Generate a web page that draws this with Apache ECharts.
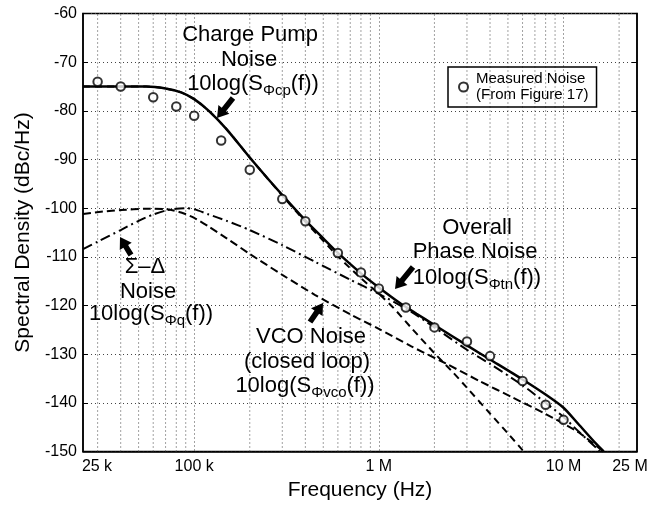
<!DOCTYPE html>
<html><head><meta charset="utf-8">
<script src="https://cdn.jsdelivr.net/npm/echarts@6/dist/echarts.min.js"></script>
<style>html,body{margin:0;padding:0;background:#fff}#c{width:666px;height:506px}</style>
</head><body><div id="c"></div>
<script>
const FONT = 'Liberation Sans, Arial, sans-serif';

// x-axis tick labels (Hz) and their text
const xTickValues = [25e3, 1e5, 1e6, 1e7, 2.5e7];
const xTickText = ['25 k', '100 k', '1 M', '10 M', '25 M'];
// log grid lines (minor)
const xGridValues = [3e4, 4e4, 5e4, 6e4, 7e4, 8e4, 9e4,
  2e5, 3e5, 4e5, 5e5, 6e5, 7e5, 8e5, 9e5,
  2e6, 3e6, 4e6, 5e6, 6e6, 7e6, 8e6, 9e6, 2e7];
const yMin = -150, yMax = -60;

// Measured noise (From Figure 17)
const measF = [30e3, 40e3, 60e3, 80e3, 100e3, 140e3, 200e3, 300e3, 400e3, 600e3, 800e3, 1e6, 1.4e6, 2e6, 3e6, 4e6, 6e6, 8e6, 10e6];
const measV = [-74, -75, -77.2, -79.1, -81, -86.1, -92.1, -98.1, -102.7, -109.2, -113.2, -116.5, -120.4, -124.5, -127.4, -130.4, -135.5, -140.4, -143.5];

// Overall phase noise (solid)
const ovF = [25e3, 40e3, 55e3, 70e3, 85e3, 100e3, 120e3, 150e3, 200e3, 250e3, 300e3, 400e3, 500e3, 600e3, 800e3, 1e6, 1.3e6, 1.6e6, 2e6, 3e6, 4e6, 6e6, 8e6, 10e6, 12e6, 15e6, 16.5e6];
const ovV = [-75, -75, -75, -75.4, -76.2, -77.6, -80, -83.8, -89.6, -93.9, -97.3, -102.5, -106.2, -109.2, -113.4, -116.3, -119.5, -121.7, -124, -128.2, -131.1, -135.2, -138.3, -141, -144.3, -148.4, -150];

// Charge pump noise (dashed, steep)
const cpF = [25e3, 40e3, 55e3, 70e3, 85e3, 100e3, 120e3, 150e3, 200e3, 250e3, 300e3, 400e3, 500e3, 600e3, 800e3, 1e6, 1.2e6, 1.5e6, 2e6, 2.5e6, 3e6, 4e6, 5e6, 6e6, 6.2e6];
const cpV = [-75, -75, -75, -75.4, -76.2, -77.6, -80, -83.8, -89.6, -93.9, -97.4, -102.8, -106.7, -109.9, -114.4, -117.6, -120.5, -124.6, -129.8, -133.6, -136.9, -142.2, -146.3, -149.7, -150.3];

// Sigma-Delta noise (dash-dot)
const sdF = [25e3, 30e3, 40e3, 50e3, 60e3, 70e3, 80e3, 90e3, 100e3, 120e3, 150e3, 200e3, 300e3, 450e3, 700e3, 1e6, 1.5e6, 2e6, 3e6, 4e6, 6e6, 8e6, 10e6, 12e6, 15.7e6];
const sdV = [-108.4, -106.9, -104.5, -102.6, -101.3, -100.5, -100.1, -100, -100.2, -101.3, -102.6, -104.5, -107.6, -111, -114.7, -117.6, -121.3, -124.5, -129.1, -132, -136.4, -140, -142.9, -145.8, -149.9];

// VCO noise, closed loop (dashed)
const vcF = [25e3, 32e3, 40e3, 55e3, 70e3, 85e3, 100e3, 120e3, 150e3, 200e3, 300e3, 450e3, 700e3, 1e6, 1.5e6, 2.3e6, 3.5e6, 5.3e6, 8e6, 12e6, 16.3e6];
const vcV = [-101.2, -100.7, -100.4, -100.1, -100.2, -100.9, -102, -103.8, -106.2, -109.4, -113.7, -117.8, -121.8, -124.8, -128.4, -131.9, -135.5, -138.9, -142.3, -146, -149.9];

const zip = (a, b) => a.map((v, i) => [v, b[i]]);

function arrowPts(tx, ty, sx, sy) {
  const dx = tx - sx, dy = ty - sy, L = Math.hypot(dx, dy);
  const ux = dx / L, uy = dy / L, px = -uy, py = ux;
  const hl = 11, hw = 7, sw = 2.8;
  const bx = tx - ux * hl, by = ty - uy * hl;
  return [[sx + px * sw, sy + py * sw], [bx + px * sw, by + py * sw], [bx + px * hw, by + py * hw],
          [tx, ty], [bx - px * hw, by - py * hw], [bx - px * sw, by - py * sw], [sx - px * sw, sy - py * sw]];
}
function arrow(tx, ty, sx, sy) {
  return { type: 'polygon', shape: { points: arrowPts(tx, ty, sx, sy) }, style: { fill: '#000' }, z: 100 };
}
function txt(x, y, s, size) {
  return { type: 'text', x: x, y: y, z: 100,
    style: { text: s, fontSize: size || 22, fontFamily: FONT, fill: '#000', align: 'center', verticalAlign: 'middle' } };
}
function formula(x, y, sub) {
  return { type: 'text', x: x, y: y, z: 100,
    style: { text: '{m|10log(S}{s|\u03A6' + sub + '}{m|(f))}', fill: '#000', align: 'center', verticalAlign: 'middle',
      rich: { m: { fontSize: 22, fontFamily: FONT, fill: '#000' },
              s: { fontSize: 15, fontFamily: FONT, fill: '#000', padding: [14, 0, 0, 0] } } } };
}

// minor vertical grid as one broken line series
const gridData = [];
xGridValues.forEach(v => { gridData.push([v, yMin], [v, yMax], [v, null]); });

const chart = echarts.init(document.getElementById('c'));
const dottedStyle = { color: '#444', type: [1, 3], width: 1 };
const lineCommon = { type: 'line', showSymbol: false, smooth: 0.25 };
chart.setOption({
  animation: false,
  backgroundColor: '#fff',
  textStyle: { fontFamily: FONT },
  grid: { left: 83, right: 29, top: 13.5, bottom: 54.5, show: true, borderColor: '#000', borderWidth: 1.5, backgroundColor: 'transparent' },
  legend: {
    data: ['Measured Noise\n(From Figure 17)'],
    left: 448, top: 67, orient: 'vertical',
    borderColor: '#000', borderWidth: 1.5, borderRadius: 0,
    padding: [4, 8, 4, 10], itemWidth: 9, itemHeight: 9,
    textStyle: { fontSize: 15, fontFamily: FONT, color: '#000', lineHeight: 16, padding: [0, 0, 0, 3] }
  },
  xAxis: {
    type: 'log', logBase: 10, min: 25e3, max: 2.5e7,
    name: 'Frequency (Hz)', nameLocation: 'middle', nameGap: 27,
    nameTextStyle: { fontSize: 21, fontFamily: FONT, color: '#000' },
    axisLine: { show: true, lineStyle: { color: '#000', width: 1.5 } },
    axisTick: { show: false },
    axisLabel: {
      customValues: xTickValues, fontSize: 16, fontFamily: FONT, color: '#000', margin: 7,
      formatter: function (v) {
        const i = xTickValues.findIndex(t => Math.abs(t - v) / t < 1e-6);
        if (i < 0) return '';
        if (i === 0) return '{a|' + xTickText[i] + '}';
        if (i === xTickValues.length - 1) return '{b|' + xTickText[i] + '}';
        return xTickText[i];
      },
      rich: { a: { fontSize: 16, fontFamily: FONT, color: '#000', padding: [0, 0, 0, 28] },
              b: { fontSize: 16, fontFamily: FONT, color: '#000', padding: [0, 14, 0, 0] } }
    },
    splitLine: { show: true, lineStyle: dottedStyle }
  },
  yAxis: [{
    type: 'value', min: yMin, max: yMax, interval: 10,
    name: 'Spectral Density (dBc/Hz)', nameLocation: 'middle', nameGap: 36,
    nameTextStyle: { fontSize: 21, fontFamily: FONT, color: '#000' },
    axisLine: { show: true, lineStyle: { color: '#000', width: 1.5 } },
    axisTick: { show: true, inside: true, length: 5, lineStyle: { color: '#000' } },
    axisLabel: { fontSize: 16, fontFamily: FONT, color: '#000', margin: 6 },
    splitLine: { show: true, lineStyle: dottedStyle }
  }, {
    type: 'value', min: yMin, max: yMax, interval: 10, position: 'right',
    axisLine: { show: true, lineStyle: { color: '#000', width: 1.5 } },
    axisTick: { show: true, inside: true, length: 5, lineStyle: { color: '#000' } },
    axisLabel: { show: false }, splitLine: { show: false }
  }],
  series: [
    { name: 'grid', type: 'line', data: gridData, silent: true, z: 1, showSymbol: false, smooth: false,
      connectNulls: false, lineStyle: dottedStyle, emphasis: { disabled: true }, tooltip: { show: false } },
    Object.assign({ name: 'VCO Noise', data: zip(vcF, vcV), lineStyle: { color: '#000', width: 2, type: [8, 4] }, z: 2 }, lineCommon),
    Object.assign({ name: 'Sigma-Delta Noise', data: zip(sdF, sdV), lineStyle: { color: '#000', width: 2, type: [10, 4, 2, 4] }, z: 2 }, lineCommon),
    Object.assign({ name: 'Charge Pump Noise', data: zip(cpF, cpV), lineStyle: { color: '#000', width: 2, type: [7, 5] }, z: 2 }, lineCommon),
    Object.assign({ name: 'Overall Phase Noise', data: zip(ovF, ovV), lineStyle: { color: '#000', width: 2.5, type: 'solid' }, z: 3 }, lineCommon),
    { name: 'Measured Noise\n(From Figure 17)', type: 'scatter', data: zip(measF, measV), symbol: 'emptyCircle', symbolSize: 8.5,
      itemStyle: { color: '#000', borderWidth: 2 }, z: 4 }
  ],
  graphic: [
    txt(250, 35, 'Charge Pump'), txt(249, 60, 'Noise'), formula(253, 84, 'cp'), arrow(217, 118, 233, 98),
    txt(477, 228, 'Overall'), txt(475, 252, 'Phase Noise'), formula(477, 278, 'tn'), arrow(395, 289, 413, 267),
    txt(145, 267, '\u03A3\u2013\u0394'), txt(148, 292, 'Noise'), formula(151, 314, 'q'), arrow(120, 237, 131, 255),
    txt(311, 337, 'VCO Noise'), txt(307, 362, '(closed loop)'), formula(305, 386, 'vco'), arrow(323, 303, 310, 322)
  ]
});
</script>
</body></html>
